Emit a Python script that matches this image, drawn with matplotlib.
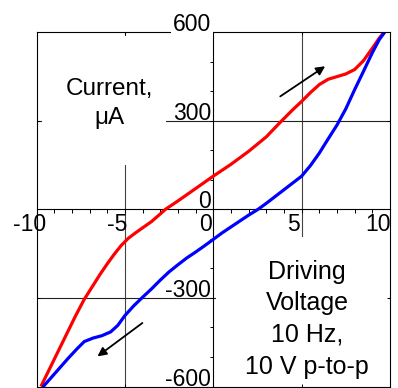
import numpy as np
import matplotlib
matplotlib.use("Agg")
import matplotlib.pyplot as plt
from matplotlib.patches import Rectangle

plt.rcParams['font.family'] = ['Liberation Sans', 'DejaVu Sans']

# ---- datos ----
red_x = [-9.75, -9.3, -8.8, -8.3, -7.8, -7.3, -6.8, -6.4, -6.0, -5.6, -5.2, -4.8,
         -4.4, -4.0, -3.5, -3.0, -2.7, -2.0, -1.0, 0.0, 1.0, 2.0, 3.0, 3.8, 4.5,
         5.0, 5.5, 6.0, 6.5, 7.0, 7.5, 8.0, 8.5, 9.0, 9.4, 9.75]
red_y = [-600, -545, -484, -423, -362, -305, -258, -220, -185, -152, -122, -98,
         -80, -63, -42, -16, 0, 28, 70, 112, 152, 196, 245, 295, 337,
         365, 395, 422, 440, 449, 458, 473, 503, 545, 580, 605]

blue_x = [-9.66, -9.2, -8.7, -8.2, -7.7, -7.3, -6.8, -6.3, -5.8, -5.4, -5.0, -4.5,
          -4.0, -3.5, -3.0, -2.5, -2.0, -1.5, -1.0, -0.5, 0.0, 0.5, 1.0, 1.5, 2.0,
          2.54, 3.0, 3.5, 4.0, 4.5, 5.0, 5.5, 6.0, 6.5, 7.0, 7.5, 8.0, 8.5, 9.0,
          9.4, 9.77]
blue_y = [-603, -572, -538, -504, -472, -448, -436, -428, -415, -393, -360, -327,
          -298, -270, -240, -212, -188, -165, -145, -124, -102, -80, -60, -40, -20,
          0, 20, 43, 66, 89, 112, 148, 190, 238, 285, 340, 405, 467, 530,
          575, 605]

x_ticks = [-10, -5, 0, 5, 10]
x_labels = ["-10", "-5", "0", "5", "10"]
x_label_dx = [10, 3, -1, -2, 1]          # px
y_ticks = [-600, -300, 0, 300, 600]
y_labels = ["-600", "-300", "0", "300", "600"]

arrow_up = ((3.79, 382), (6.33, 484))
arrow_down = ((-4.01, -385), (-6.55, -498))

# ---- figura ----
W, H, DPI = 398, 388, 100
fig = plt.figure(figsize=(W / DPI, H / DPI), dpi=DPI)
pos = [36.5 / W, 1.5 / H, 353.5 / W, 354.5 / H]
PX = 72 / DPI   # puntos por pixel

ax = fig.add_axes(pos)
ax.set_xlim(-10, 10)
ax.set_ylim(-600, 600)

# ejes centrales con marcas menores
for s in ['top', 'right']:
    ax.spines[s].set_visible(False)
ax.spines['left'].set_position('zero')
ax.spines['bottom'].set_position('zero')
for s in ['left', 'bottom']:
    ax.spines[s].set_linewidth(0.8)
    ax.spines[s].set_zorder(2.5)
ax.set_xticks([x for x in range(-9, 10) if x != 0])
ax.set_yticks([y for y in range(-500, 600, 100) if y != 0])
ax.tick_params(direction='out', length=3.5 * PX, width=0.7, labelbottom=False, labelleft=False)

# rejilla
for gx in [-5, 5]:
    ax.axvline(gx, color='#444444', lw=0.8, zorder=1)
for gy in [-300, 300]:
    ax.axhline(gy, color='#222222', lw=0.8, zorder=1)

# cajas blancas bajo los textos
ax.add_patch(Rectangle((-9.7, 150), 7.0, 435, facecolor='white', edgecolor='none', zorder=1.5))
ax.add_patch(Rectangle((0.15, -600), 9.75, 505, facecolor='white', edgecolor='none', zorder=1.5))

# curvas
ax.plot(red_x, red_y, color='#FF0000', lw=2.3, zorder=3, solid_capstyle='butt')
ax.plot(blue_x, blue_y, color='#0000FF', lw=2.3, zorder=3, solid_capstyle='butt')

for (x0, y0), (x1, y1) in [arrow_up, arrow_down]:
    ax.annotate('', xy=(x1, y1), xytext=(x0, y0),
                arrowprops=dict(arrowstyle='-|>', color='black', lw=1.3,
                                mutation_scale=13, shrinkA=0, shrinkB=0), zorder=4)

# marco exterior
box = fig.add_axes(pos, facecolor='none')
box.set_xlim(-10, 10)
box.set_ylim(-600, 600)
for s in box.spines.values():
    s.set_linewidth(0.8)
box.set_xticks([-5, 5])
box.set_yticks([-300, 300])
box.tick_params(direction='in', length=3 * PX, width=0.7, top=True, right=True,
                labelbottom=False, labelleft=False)

fs = 16.5
for x, lab, dx in zip(x_ticks, x_labels, x_label_dx):
    box.annotate(lab, xy=(x, 0), xytext=(dx * PX, -4 * PX), textcoords='offset points',
                 ha='right', va='top', fontsize=fs)
for y, lab in zip(y_ticks, y_labels):
    kw = {}
    if lab == "600":
        kw['bbox'] = dict(facecolor='white', edgecolor='none', pad=1.5)
    box.annotate(lab, xy=(0, y), xytext=(-2 * PX, 1 * PX), textcoords='offset points',
                 ha='right', va='baseline', fontsize=fs, zorder=5, **kw)

box.text(-5.9, 358, "Current,\n\u03bcA", ha='center', va='center', fontsize=17.5,
         linespacing=1.45)
box.text(5.3, -372, "Driving\nVoltage\n10 Hz,\n10 V p-to-p", ha='center', va='center',
         fontsize=18, linespacing=1.4)

fig.savefig("out.png", dpi=DPI)
